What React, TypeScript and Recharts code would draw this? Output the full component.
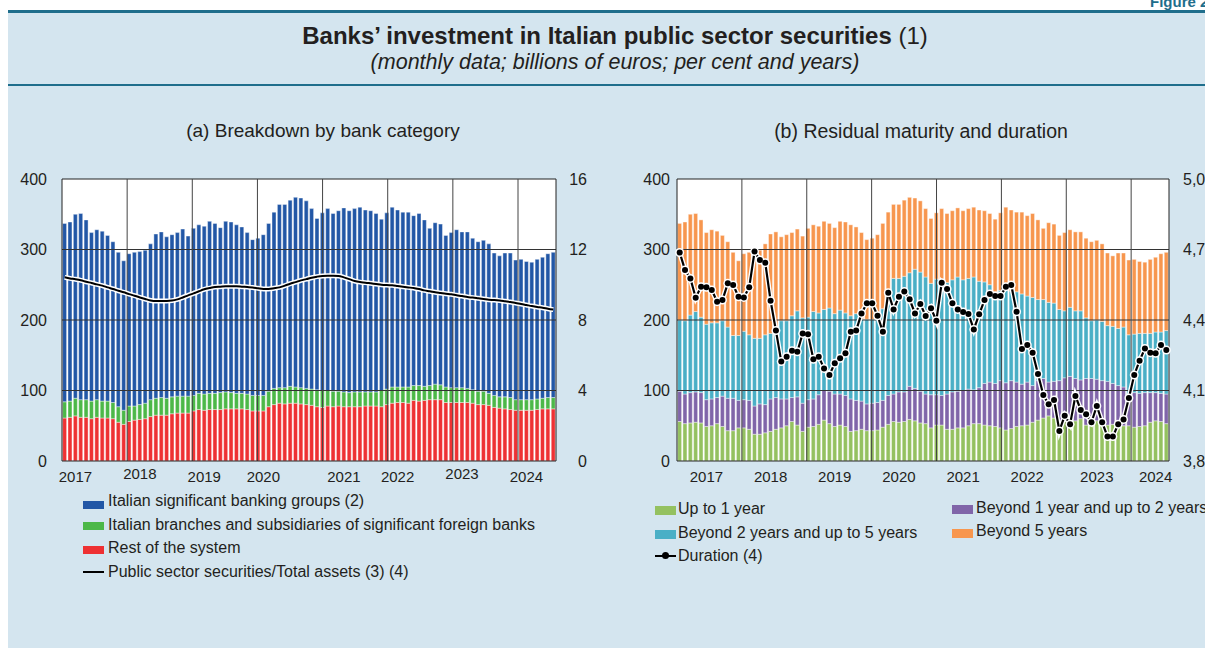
import React from "react";
import {ComposedChart, Bar, Line, XAxis, YAxis, CartesianGrid, ReferenceLine} from "recharts";

const FONT = '"Liberation Sans", Arial, Helvetica, sans-serif';
const INK = "#231f20";
const PANEL = "#d4e5ef";
const RULE = "#1f6e8c";

// categories: monthly, Jan 2017 - Aug 2024
const years = [2017, 2018, 2019, 2020, 2021, 2022, 2023, 2024];
const months: string[] = [];
years.forEach((y) => {
  const last = y === 2024 ? 8 : 12;
  for (let m = 1; m <= last; m++) months.push(`${y}-${String(m).padStart(2, "0")}`);
});

// (a) billions of euros - top of each stack level
const totalHoldings = [
  337, 339, 350, 351, 342, 324, 328, 326, 320, 311, 296, 284,
  294, 296, 297, 299, 308, 322, 325, 318, 321, 324, 329, 319,
  330, 335, 333, 340, 337, 331, 340, 339, 335, 332, 324, 314,
  316, 321, 337, 353, 364, 364, 370, 374, 373, 369, 358, 344,
  352, 358, 351, 355, 359, 355, 358, 360, 356, 355, 351, 343,
  352, 360, 356, 353, 353, 348, 351, 342, 330, 338, 336, 320,
  324, 328, 325, 325, 316, 311, 313, 308, 295, 291, 295, 295,
  285, 286, 283, 282, 286, 289, 294, 296
];
const foreignAndRest = [
  84, 85, 89, 87, 87, 85, 87, 85, 85, 83, 77, 72,
  78, 78, 80, 82, 87, 89, 90, 89, 91, 92, 92, 92,
  93, 96, 95, 96, 96, 97, 98, 97, 96, 96, 95, 93,
  93, 93, 99, 103, 104, 104, 106, 105, 104, 103, 102, 101,
  100, 100, 99, 99, 98, 97, 98, 98, 98, 98, 98, 100,
  102, 105, 105, 105, 105, 107, 107, 106, 107, 109, 108, 105,
  104, 104, 104, 103, 101, 99, 99, 96, 93, 91, 91, 90,
  87, 87, 87, 87, 88, 89, 90, 90
];
const restOfSystem = [
  61, 62, 64, 62, 62, 60, 62, 61, 61, 60, 55, 52,
  56, 58, 59, 60, 63, 65, 65, 65, 67, 68, 68, 68,
  71, 73, 72, 73, 73, 73, 74, 74, 74, 74, 73, 71,
  71, 71, 77, 80, 82, 81, 82, 82, 81, 80, 79, 77,
  76, 78, 77, 78, 77, 77, 77, 77, 78, 78, 78, 77,
  80, 82, 83, 83, 82, 86, 85, 86, 87, 87, 87, 83,
  83, 83, 83, 83, 82, 80, 80, 79, 76, 75, 74, 73,
  72, 72, 72, 72, 73, 74, 74, 74
];
// per cent, right-hand scale
const securitiesToAssets = [
  10.42, 10.36, 10.31, 10.25, 10.17, 10.1, 10.02, 9.95, 9.85, 9.76, 9.66, 9.57,
  9.47, 9.38, 9.28, 9.19, 9.11, 9.08, 9.08, 9.08, 9.1, 9.17, 9.28, 9.4,
  9.51, 9.63, 9.74, 9.81, 9.87, 9.89, 9.91, 9.91, 9.91, 9.89, 9.87, 9.85,
  9.8, 9.76, 9.76, 9.8, 9.85, 9.95, 10.06, 10.15, 10.25, 10.32, 10.4, 10.46,
  10.5, 10.51, 10.51, 10.5, 10.42, 10.32, 10.21, 10.15, 10.12, 10.08, 10.04, 10.0,
  9.98, 9.97, 9.93, 9.89, 9.85, 9.81, 9.76, 9.68, 9.63, 9.57, 9.53, 9.49,
  9.46, 9.4, 9.36, 9.3, 9.27, 9.23, 9.19, 9.15, 9.13, 9.1, 9.06, 9.02,
  8.96, 8.91, 8.85, 8.79, 8.74, 8.7, 8.64, 8.59
];

// (b) billions of euros - cumulative levels by residual maturity
const upTo1y = [
  56, 53, 54, 55, 54, 49, 50, 53, 49, 43, 43, 47,
  47, 45, 38, 38, 40, 42, 45, 47, 50, 56, 51, 42,
  48, 49, 52, 58, 53, 49, 51, 49, 42, 43, 45, 43,
  43, 44, 48, 52, 56, 55, 56, 59, 57, 54, 53, 47,
  51, 51, 45, 45, 47, 47, 50, 53, 53, 51, 50, 49,
  47, 44, 46, 49, 50, 51, 55, 58, 61, 64, 61, 55,
  60, 55, 57, 60, 51, 52, 57, 57, 51, 52, 50, 50,
  50, 48, 49, 50, 55, 57, 56, 53
];
const upTo2yLevel = [
  99, 95, 97, 98, 97, 87, 88, 90, 92, 89, 89, 86,
  87, 86, 78, 81, 80, 88, 90, 88, 88, 90, 91, 82,
  87, 88, 94, 100, 99, 95, 95, 93, 88, 86, 85, 81,
  82, 83, 86, 93, 95, 98, 98, 106, 103, 99, 95, 94,
  94, 93, 95, 98, 99, 100, 102, 101, 104, 110, 112, 110,
  114, 111, 114, 112, 109, 112, 107, 114, 117, 112, 113, 114,
  118, 120, 117, 115, 117, 117, 116, 114, 113, 110, 107, 105,
  93, 97, 96, 97, 97, 97, 96, 95
];
const upTo5yLevel = [
  200, 199, 207, 212, 204, 194, 196, 196, 199, 190, 178, 178,
  184, 179, 174, 174, 179, 181, 191, 199, 199, 206, 213, 203,
  204, 212, 210, 215, 217, 209, 214, 210, 206, 209, 201, 201,
  201, 202, 216, 240, 259, 259, 262, 267, 272, 268, 261, 252,
  258, 256, 253, 257, 261, 257, 259, 261, 255, 254, 250, 240,
  242, 245, 241, 240, 237, 234, 232, 229, 229, 225, 224, 215,
  213, 218, 213, 213, 203, 199, 200, 198, 192, 191, 188, 190,
  179, 180, 181, 181, 181, 183, 183, 185
];
// years, right-hand scale
const duration = [
  4.687, 4.613, 4.577, 4.495, 4.542, 4.539, 4.528, 4.478, 4.485, 4.556, 4.549, 4.499,
  4.496, 4.539, 4.691, 4.655, 4.644, 4.482, 4.355, 4.223, 4.244, 4.269, 4.265, 4.343,
  4.339, 4.233, 4.244, 4.194, 4.166, 4.216, 4.237, 4.258, 4.35, 4.355, 4.428, 4.471,
  4.471, 4.418, 4.35, 4.516, 4.445, 4.499, 4.521, 4.488, 4.428, 4.468, 4.417, 4.45,
  4.397, 4.559, 4.532, 4.471, 4.445, 4.434, 4.426, 4.36, 4.424, 4.485, 4.511, 4.502,
  4.502, 4.542, 4.549, 4.435, 4.277, 4.294, 4.261, 4.17, 4.081, 4.041, 4.06, 3.928,
  3.993, 3.956, 4.077, 4.017, 3.999, 3.965, 4.034, 3.965, 3.904, 3.904, 3.956, 3.977,
  4.068, 4.166, 4.227, 4.279, 4.261, 4.258, 4.294, 4.272
];

// tick labels
const leftYearTicks = ["2017-03", "2018-03", "2019-03", "2020-02", "2021-05", "2022-03", "2023-03", "2024-03"];
const rightYearTicks = ["2017-06", "2018-06", "2019-06", "2020-06", "2021-06", "2022-06", "2023-07", "2024-06"];
const raisedYears = ["2018", "2023"];
const amountTicks = [0, 100, 200, 300, 400];
const shareTicks = [0, 4, 8, 12, 16];
const durationTicks = [3.8, 4.1, 4.4, 4.7, 5.0];
const yearBreaks = [12, 24, 36, 48, 60, 72, 84];
const monthEdges = months.map((_, i) => i + 1);

const leftRows = months.map((m, i) => ({
  m,
  rest: restOfSystem[i],
  foreign: foreignAndRest[i] - restOfSystem[i],
  sig: totalHoldings[i] - foreignAndRest[i],
  ratio: securitiesToAssets[i]
}));

const rightRows = months.map((m, i) => ({
  m,
  y1: upTo1y[i],
  y2: upTo2yLevel[i] - upTo1y[i],
  y5: upTo5yLevel[i] - upTo2yLevel[i],
  over5: totalHoldings[i] - upTo5yLevel[i],
  dur: duration[i]
}));

const BLUE = "#2257a6";
const GREEN = "#4cb848";
const RED = "#ee3133";
const M_GREEN = "#94c160";
const M_PURPLE = "#8065a9";
const M_TEAL = "#4aafc6";
const M_ORANGE = "#f7964e";
const GRID = "#333333";

const YearTick = ({x, y, payload, lift}: any) => {
  const yr = String(payload.value).slice(0, 4);
  const dy = lift && raisedYears.includes(yr) ? -3 : 0;
  return (
    <text x={x} y={y + dy} dy="0.71em" textAnchor="middle" fontSize={15} fill={INK} fontFamily={FONT}>
      {yr}
    </text>
  );
};

const axisTick = {fontSize: 16, fill: INK, fontFamily: FONT};

// grid lines drawn over the bars, as in the original
function frame() {
  return [
    ...[100, 200, 300].map((v) => (
      <ReferenceLine key={`h${v}`} xAxisId="tk" yAxisId="l" y={v} stroke={GRID} strokeWidth={1} />
    )),
    <ReferenceLine key="top" xAxisId="tk" yAxisId="l" y={400} stroke="#222" strokeWidth={1} />,
    ...yearBreaks.map((v) => (
      <ReferenceLine key={`v${v}`} xAxisId="tk" yAxisId="l" x={v} stroke="#444" strokeWidth={1} />
    ))
  ];
}

function BankCategoryChart() {
  return (
    <ComposedChart
      width={610}
      height={321}
      data={leftRows}
      margin={{top: 9, right: 14, bottom: 0, left: 12}}
      barCategoryGap={0.6}
    >
      <CartesianGrid xAxisId="tk" yAxisId="l" fill="#ffffff" horizontal={false} vertical={false} />
      <XAxis
        xAxisId="tk"
        type="number"
        domain={[0, 92]}
        allowDataOverflow
        ticks={monthEdges}
        interval={0}
        mirror
        tickSize={3}
        tick={false}
        tickLine={{stroke: "#666"}}
        axisLine={false}
        height={0}
      />
      <XAxis
        xAxisId="cat"
        dataKey="m"
        ticks={leftYearTicks}
        interval={0}
        tickLine={false}
        tickSize={0}
        tickMargin={10}
        axisLine={{stroke: "#222"}}
        height={30}
        tick={<YearTick lift />}
      />
      <YAxis
        yAxisId="l"
        domain={[0, 400]}
        ticks={amountTicks}
        width={50}
        tickLine={false}
        tickSize={0}
        tickMargin={15}
        axisLine={{stroke: "#222"}}
        tick={axisTick}
      />
      <YAxis
        yAxisId="r"
        orientation="right"
        domain={[0, 16]}
        ticks={shareTicks}
        width={40}
        tickLine={false}
        tickSize={0}
        tickMargin={31}
        axisLine={{stroke: "#222"}}
        tick={{...axisTick, textAnchor: "end"}}
      />
      <Bar xAxisId="cat" yAxisId="l" dataKey="rest" stackId="s" fill={RED} stroke="#fff" strokeWidth={0.4} isAnimationActive={false} />
      <Bar xAxisId="cat" yAxisId="l" dataKey="foreign" stackId="s" fill={GREEN} stroke="#fff" strokeWidth={0.4} isAnimationActive={false} />
      <Bar xAxisId="cat" yAxisId="l" dataKey="sig" stackId="s" fill={BLUE} stroke="#fff" strokeWidth={0.4} isAnimationActive={false} />
      {frame()}
      <Line xAxisId="cat" yAxisId="r" dataKey="ratio" type="monotone" stroke="#ffffff" strokeWidth={5} dot={false} isAnimationActive={false} />
      <Line xAxisId="cat" yAxisId="r" dataKey="ratio" type="monotone" stroke="#000000" strokeWidth={2} dot={false} isAnimationActive={false} />
    </ComposedChart>
  );
}

function MaturityChart() {
  return (
    <ComposedChart
      width={594}
      height={321}
      data={rightRows}
      margin={{top: 9, right: 0, bottom: 0, left: 12}}
      barCategoryGap={0.6}
    >
      <CartesianGrid xAxisId="tk" yAxisId="l" fill="#ffffff" horizontal={false} vertical={false} />
      <XAxis
        xAxisId="tk"
        type="number"
        domain={[0, 92]}
        allowDataOverflow
        ticks={monthEdges}
        interval={0}
        mirror
        tickSize={3}
        tick={false}
        tickLine={{stroke: "#666"}}
        axisLine={false}
        height={0}
      />
      <XAxis
        xAxisId="cat"
        dataKey="m"
        ticks={rightYearTicks}
        interval={0}
        tickLine={false}
        tickSize={0}
        tickMargin={10}
        axisLine={{stroke: "#222"}}
        height={30}
        tick={<YearTick />}
      />
      <YAxis
        yAxisId="l"
        domain={[0, 400]}
        ticks={amountTicks}
        width={50}
        tickLine={false}
        tickSize={0}
        tickMargin={7}
        axisLine={{stroke: "#222"}}
        tick={axisTick}
      />
      <YAxis
        yAxisId="r"
        orientation="right"
        domain={[3.8, 5.0]}
        ticks={durationTicks}
        width={40}
        tickLine={false}
        tickSize={0}
        tickMargin={14}
        axisLine={{stroke: "#222"}}
        tick={axisTick}
        tickFormatter={(v: number) => v.toFixed(1).replace(".", ",")}
      />
      <Bar xAxisId="cat" yAxisId="l" dataKey="y1" stackId="s" fill={M_GREEN} stroke="#fff" strokeWidth={0.4} isAnimationActive={false} />
      <Bar xAxisId="cat" yAxisId="l" dataKey="y2" stackId="s" fill={M_PURPLE} stroke="#fff" strokeWidth={0.4} isAnimationActive={false} />
      <Bar xAxisId="cat" yAxisId="l" dataKey="y5" stackId="s" fill={M_TEAL} stroke="#fff" strokeWidth={0.4} isAnimationActive={false} />
      <Bar xAxisId="cat" yAxisId="l" dataKey="over5" stackId="s" fill={M_ORANGE} stroke="#fff" strokeWidth={0.4} isAnimationActive={false} />
      {frame()}
      <Line
        xAxisId="cat"
        yAxisId="r"
        dataKey="dur"
        stroke="#ffffff"
        strokeWidth={5}
        dot={{r: 4.5, fill: "#ffffff", stroke: "none"}}
        isAnimationActive={false}
      />
      <Line
        xAxisId="cat"
        yAxisId="r"
        dataKey="dur"
        stroke="#000000"
        strokeWidth={2.2}
        dot={{r: 3, fill: "#000000", stroke: "none"}}
        isAnimationActive={false}
      />
    </ComposedChart>
  );
}

const Swatch = ({color, left, top, w = 21, h = 8}: any) => (
  <div style={{position: "absolute", left, top, width: w, height: h, background: color}} />
);

const LegendText = ({left, center, children}: any) => (
  <div
    style={{
      position: "absolute",
      left,
      top: center - 10,
      height: 20,
      lineHeight: "20px",
      fontSize: 16,
      color: INK,
      whiteSpace: "nowrap"
    }}
  >
    {children}
  </div>
);

export default function App() {
  return (
    <div
      style={{
        position: "absolute",
        left: 0,
        top: 0,
        width: 1205,
        height: 648,
        overflow: "hidden",
        background: "#ffffff",
        fontFamily: FONT,
        color: INK
      }}
    >
      {/* panel and title band */}
      <div style={{position: "absolute", left: 8, top: 12, width: 1220, height: 640, background: PANEL}} />
      <div style={{position: "absolute", left: 8, top: 10, width: 1220, height: 3, background: RULE}} />
      <div style={{position: "absolute", left: 8, top: 84, width: 1220, height: 2, background: RULE}} />
      <div
        style={{position: "absolute", left: 1150, top: -7, fontSize: 15, fontWeight: 700, color: RULE, whiteSpace: "nowrap"}}
      >
        Figure 2.1
      </div>
      <div style={{position: "absolute", left: 0, width: 1230, top: 21, height: 30, lineHeight: "30px", textAlign: "center", fontSize: 24}}>
        <b>Banks’ investment in Italian public sector securities</b> (1)
      </div>
      <div
        style={{position: "absolute", left: 0, width: 1230, top: 50, height: 24, lineHeight: "24px", textAlign: "center", fontSize: 21.5, fontStyle: "italic"}}
      >
        (monthly data; billions of euros; per cent and years)
      </div>

      {/* panel titles */}
      <div style={{position: "absolute", left: 123, width: 400, top: 119, height: 24, lineHeight: "24px", textAlign: "center", fontSize: 19}}>
        (a) Breakdown by bank category
      </div>
      <div style={{position: "absolute", left: 721, width: 400, top: 119, height: 24, lineHeight: "24px", textAlign: "center", fontSize: 19.5}}>
        (b) Residual maturity and duration
      </div>

      <div style={{position: "absolute", left: 0, top: 170}}>
        <BankCategoryChart />
      </div>
      <div style={{position: "absolute", left: 615, top: 170}}>
        <MaturityChart />
      </div>

      {/* legend (a) */}
      <Swatch color={BLUE} left={83} top={501} />
      <LegendText left={108} center={501}>Italian significant banking groups (2)</LegendText>
      <Swatch color={GREEN} left={83} top={522} />
      <LegendText left={108} center={525}>Italian branches and subsidiaries of significant foreign banks</LegendText>
      <Swatch color={RED} left={83} top={546} />
      <LegendText left={108} center={548}>Rest of the system</LegendText>
      <div style={{position: "absolute", left: 83, top: 571, width: 21, height: 2, background: "#000"}} />
      <LegendText left={108} center={572}>Public sector securities/Total assets (3) (4)</LegendText>

      {/* legend (b) */}
      <Swatch color={M_GREEN} left={655} top={506} h={9} />
      <LegendText left={678} center={509}>Up to 1 year</LegendText>
      <Swatch color={M_PURPLE} left={952} top={505} h={9} />
      <LegendText left={976} center={508}>Beyond 1 year and up to 2 years</LegendText>
      <Swatch color={M_TEAL} left={655} top={530} h={9} />
      <LegendText left={678} center={533}>Beyond 2 years and up to 5 years</LegendText>
      <Swatch color={M_ORANGE} left={952} top={529} h={9} />
      <LegendText left={976} center={531}>Beyond 5 years</LegendText>
      <div style={{position: "absolute", left: 655, top: 555, width: 21, height: 2, background: "#000"}} />
      <div style={{position: "absolute", left: 662, top: 552, width: 7, height: 7, borderRadius: 4, background: "#000"}} />
      <LegendText left={678} center={556}>Duration (4)</LegendText>
    </div>
  );
}
